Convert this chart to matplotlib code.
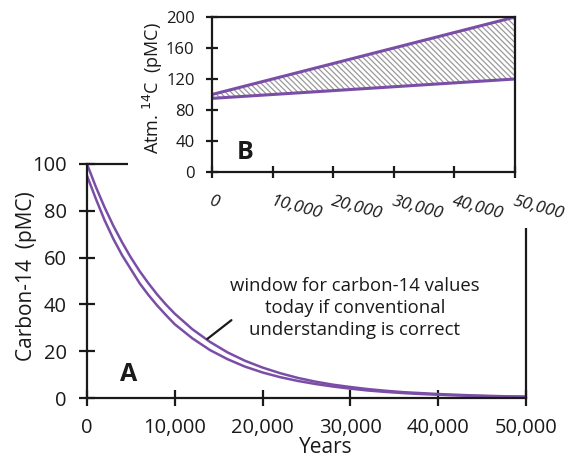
import matplotlib
matplotlib.use("Agg")
import matplotlib.pyplot as plt
from matplotlib.patches import Rectangle

plt.rcParams['font.family'] = ['Open Sans', 'DejaVu Sans']
plt.rcParams['hatch.color'] = '#9a9a9a'
plt.rcParams['hatch.linewidth'] = 0.9

# ---- data (panel A) ----
years = [0, 1000, 2000, 3000, 4000, 5000, 6000, 7000, 8000, 9000, 10000,
         12000, 14000, 16000, 18000, 20000, 22000, 24000, 26000, 28000, 30000,
         32000, 34000, 36000, 38000, 40000, 42000, 44000, 46000, 48000, 50000]
upper_c14 = [100, 90.3, 81.5, 73.6, 66.5, 60.0, 54.2, 49.0, 44.2, 39.9, 36.0,
             29.4, 24.0, 19.5, 15.9, 13.0, 10.6, 8.6, 7.0, 5.7, 4.7,
             3.8, 3.1, 2.5, 2.1, 1.7, 1.4, 1.1, 0.9, 0.7, 0.6]
lower_c14 = [95, 85.2, 76.0, 68.0, 61.0, 55.0, 49.0, 44.0, 39.5, 35.4, 31.5,
             25.5, 20.5, 16.6, 13.4, 10.9, 8.9, 7.3, 6.0, 4.9, 4.0,
             3.2, 2.6, 2.1, 1.7, 1.4, 1.1, 0.9, 0.7, 0.6, 0.5]
main_xticks = [0, 10000, 20000, 30000, 40000, 50000]
main_xticklabels = ['0', '10,000', '20,000', '30,000', '40,000', '50,000']
main_yticks = [0, 20, 40, 60, 80, 100]

# ---- data (panel B) ----
atm_years = [0, 50000]
atm_upper = [100, 200]
atm_lower = [95, 120]
inset_yticks = [0, 40, 80, 120, 160, 200]
inset_xticks = [0, 10000, 20000, 30000, 40000, 50000]
inset_xticklabels = ['0', '10,000', '20,000', '30,000', '40,000', '50,000']

annotation_lines = "window for carbon-14 values\ntoday if conventional\nunderstanding is correct"

purple = '#7a4ea6'
dark = '#1a1a1a'
W, H = 568, 461
fig = plt.figure(figsize=(W / 100, H / 100), dpi=100)


def fx(px):
    return px / W


def fy(py):
    return 1 - py / H


# ---- main axes ----
ax = fig.add_axes([fx(87), fy(398), fx(526) - fx(87), fy(164) - fy(398)])
ax.plot(years, upper_c14, color=purple, lw=1.8, solid_capstyle='butt')
ax.plot(years, lower_c14, color=purple, lw=1.8, solid_capstyle='butt')
ax.set_xlim(0, 50000)
ax.set_ylim(0, 100)
ax.set_xticks(main_xticks)
ax.set_xticklabels(main_xticklabels)
ax.set_yticks(main_yticks)
for s in ax.spines.values():
    s.set_linewidth(1.6)
    s.set_color(dark)
ax.tick_params(direction='inout', length=11, width=1.6, labelsize=14.5,
               colors=dark)
ax.tick_params(axis='x', pad=9)
ax.tick_params(axis='y', pad=9)
ax.set_ylabel('Carbon-14  (pMC)', fontsize=15, color=dark)
ax.yaxis.set_label_coords(-0.114, 0.52)
ax.set_xlabel('Years', fontsize=15, color=dark)
ax.xaxis.set_label_coords(0.543, -0.168)
ax.text(4700, 10, 'A', fontsize=18, fontweight='bold', color=dark,
        ha='center', va='center')
ax.text(0.61, 0.385, annotation_lines, transform=ax.transAxes,
        ha='center', va='center', fontsize=13.3, color=dark, linespacing=1.3)
ax.annotate('', xy=(13450, 24.5), xytext=(16700, 34),
            arrowprops=dict(arrowstyle='-', color=dark, lw=1.6))

# white cover behind the inset
fig.patches.append(Rectangle((fx(128), fy(228)), 1 - fx(128), 1 - fy(228) + 0.01,
                             transform=fig.transFigure, facecolor='white',
                             edgecolor='none', zorder=5))

# ---- inset axes ----
ins = fig.add_axes([fx(212), fy(172), fx(515) - fx(212), fy(17) - fy(172)],
                   zorder=10)
ins.fill_between(atm_years, atm_lower, atm_upper, facecolor='none',
                 hatch='\\\\\\\\\\\\', edgecolor='#9a9a9a', linewidth=0)
ins.plot(atm_years, atm_upper, color=purple, lw=2.2, solid_capstyle='butt')
ins.plot(atm_years, atm_lower, color=purple, lw=2.2, solid_capstyle='butt')
ins.set_xlim(0, 50000)
ins.set_ylim(0, 200)
ins.set_yticks(inset_yticks)
ins.set_xticks(inset_xticks)
ins.set_xticklabels(inset_xticklabels, rotation=-15, ha='left',
                    rotation_mode='anchor', fontstyle='italic')
for s in ins.spines.values():
    s.set_linewidth(1.6)
    s.set_color(dark)
ins.tick_params(direction='inout', length=9, width=1.6, labelsize=12,
                colors=dark)
ins.tick_params(axis='x', pad=11, labelsize=12.5)
ins.tick_params(axis='y', pad=8)
ins.set_ylabel('Atm. $^{14}$C  (pMC)', fontsize=13, color=dark)
ins.yaxis.set_label_coords(-0.155, 0.54)
ins.text(5500, 25, 'B', fontsize=18, fontweight='bold', color=dark,
         ha='center', va='center')

fig.savefig('out.png', dpi=100)
